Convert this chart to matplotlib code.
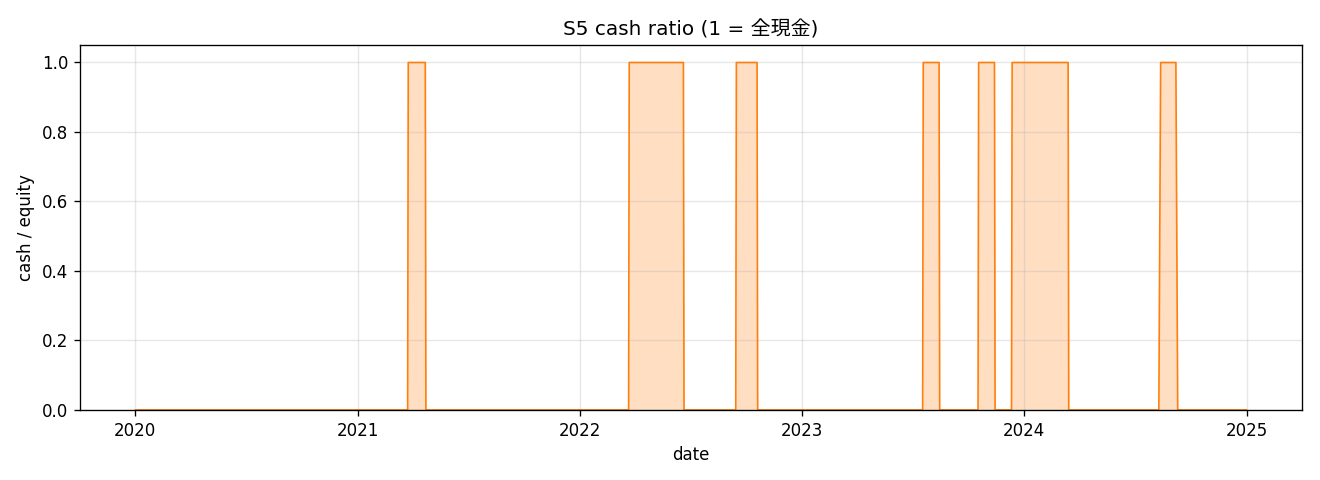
import pandas as pd
import numpy as np
import matplotlib
matplotlib.use("Agg")
import matplotlib.pyplot as plt

plt.rcParams['font.family'] = ['DejaVu Sans', 'Noto Sans CJK JP']

# periodos en caja (ratio = 1)
cash_start = ["2021-03-25", "2022-03-23", "2022-09-15", "2023-07-19",
              "2023-10-18", "2023-12-12", "2024-08-12"]
cash_end = ["2021-04-22", "2022-06-20", "2022-10-19", "2023-08-14",
            "2023-11-13", "2024-03-13", "2024-09-06"]
first_day = "2020-01-02"
last_day = "2024-12-31"

dates = pd.bdate_range(first_day, last_day)
ratio = pd.Series(0.0, index=dates)
for s, e in zip(cash_start, cash_end):
    ratio[(ratio.index >= s) & (ratio.index <= e)] = 1.0

fig, ax = plt.subplots(figsize=(11, 4), dpi=120)
fig.subplots_adjust(left=0.0606, right=0.9864, top=0.906, bottom=0.146)

ax.plot(ratio.index, ratio.values, color='tab:orange', lw=1.0)
ax.fill_between(ratio.index, 0, ratio.values, color='tab:orange', alpha=0.25, lw=0)

ax.set_ylim(0, 1.05)
ax.set_title("S5 cash ratio (1 = 全現金)")
ax.set_xlabel("date")
ax.set_ylabel("cash / equity")
ax.grid(True, alpha=0.3)

fig.savefig("out.png")
